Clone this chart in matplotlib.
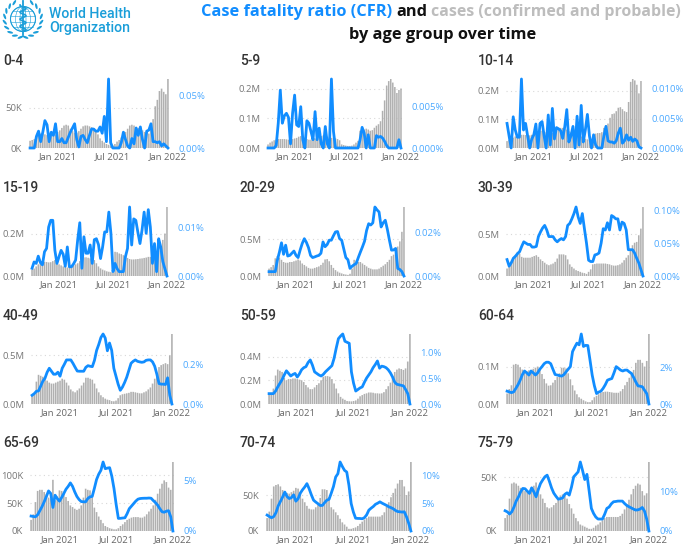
import matplotlib
matplotlib.use("Agg")
import matplotlib.pyplot as plt
from matplotlib.patches import Circle, Ellipse
from matplotlib.ticker import FixedLocator, FixedFormatter
import numpy as np
import pandas as pd

W, H = 685, 545
BLUE = "#118DFF"
BLUE_TXT = "#4BA9FF"
GREY = "#B0B0B0"
LOGO = "#1A9ED9"

# weekly dates, bars run from Oct 2020 to the first week of Jan 2022
weeks = pd.date_range("2020-10-05", periods=66, freq="7D")

# cases
cases_0_4 = [9, 10, 11, 15, 17, 18, 18, 17, 16, 17,
             15, 16, 17, 20, 22, 25, 28, 29, 28, 24,
             21, 19, 19, 21, 24, 27, 28, 28, 27, 26,
             24, 22, 17, 12, 9, 7, 5, 4, 3, 3,
             5, 8, 10, 13, 17, 20, 24, 28, 29, 28,
             26, 25, 24, 22, 20, 19, 18, 22, 36, 52,
             60, 71, 74, 70, 67, 86]
cases_5_9 = [.012, .018, .022, .026, .028, .03, .03, .03, .03, .029,
             .028, .029, .03, .032, .034, .038, .04, .038, .035, .03,
             .028, .028, .03, .032, .034, .036, .04, .042, .04, .038,
             .036, .034, .034, .032, .03, .026, .012, .01, .008, .007,
             .007, .008, .012, .018, .024, .058, .06, .062, .065, .062,
             .058, .06, .068, .075, .08, .09, .125, .16, .21, .225,
             .232, .22, .205, .185, .195, .2]
cases_10_14 = [.024, .028, .032, .036, .04, .042, .044, .046, .046, .045,
               .044, .044, .046, .05, .054, .058, .06, .06, .058, .055,
               .052, .05, .052, .056, .062, .068, .07, .07, .068, .064,
               .058, .054, .05, .046, .044, .042, .04, .036, .032, .03,
               .028, .028, .034, .05, .052, .052, .055, .07, .08, .085,
               .105, .118, .12, .128, .14, .142, .135, .128, .125, .16,
               .23, .24, .235, .22, .19, .233]
cases_15_19 = [.03, .035, .045, .055, .06, .065, .067, .066, .064, .065,
               .07, .075, .065, .055, .05, .045, .042, .04, .042, .044,
               .05, .055, .06, .07, .08, .0875, .088, .086, .083, .085,
               .075, .06, .045, .036, .03, .026, .022, .02, .018, .016,
               .114, .112, .106, .103, .098, .09, .085, .08, .078, .078,
               .079, .08, .082, .083, .085, .087, .09, .09, .092, .098,
               .11, .12, .14, .17, .2, .325]
cases_20_29 = [.10, .12, .15, .24, .27, .25, .22, .19, .18, .18,
               .19, .19, .20, .21, .225, .21, .17, .15, .13, .11,
               .10, .10, .11, .12, .13, .15, .18, .225, .23, .20,
               .15, .11, .08, .06, .045, .035, .025, .02, .015, .03,
               .10, .22, .21, .19, .19, .17, .15, .13, .11, .10,
               .09, .09, .09, .10, .12, .14, .16, .19, .22, .27,
               .29, .31, .40, .47, .60, .937]
cases_30_39 = [.09, .13, .17, .21, .25, .29, .27, .23, .22, .22,
               .22, .22, .23, .24, .25, .23, .20, .18, .16, .14,
               .13, .14, .15, .17, .21, .26, .26, .26, .25, .20,
               .14, .11, .09, .07, .06, .05, .04, .035, .025, .05,
               .08, .14, .145, .15, .15, .15, .15, .15, .145, .14,
               .13, .125, .125, .13, .14, .16, .19, .22, .25, .31,
               .37, .40, .41, .49, .57, .83]
cases_40_49 = [.09, .10, .23, .30, .29, .28, .26, .24, .22, .21,
               .21, .22, .23, .24, .26, .25, .22, .19, .15, .13,
               .12, .14, .16, .19, .22, .27, .27, .26, .25, .21,
               .16, .12, .09, .07, .055, .045, .04, .03, .028, .035,
               .06, .09, .10, .105, .11, .115, .125, .125, .12, .115,
               .11, .11, .12, .13, .15, .17, .21, .26, .32, .38,
               .40, .41, .42, .41, .50, .72]
cases_50_59 = [.08, .09, .13, .24, .29, .28, .27, .22, .2, .21,
               .21, .215, .215, .21, .205, .2, .185, .16, .14, .125,
               .125, .14, .16, .175, .20, .23, .235, .235, .23, .21,
               .173, .13, .09, .06, .045, .035, .025, .023, .022, .025,
               .03, .045, .065, .075, .085, .09, .097, .097, .095, .09,
               .09, .088, .09, .10, .125, .15, .18, .22, .27, .29,
               .30, .295, .287, .30, .358, .59]
cases_60_64 = [.028, .04, .05, .105, .107, .105, .098, .092, .088, .088,
               .09, .091, .094, .097, .10, .092, .08, .067, .055, .049,
               .05, .057, .064, .072, .082, .097, .097, .095, .082, .066,
               .05, .036, .026, .018, .014, .01, .007, .005, .005, .01,
               .018, .022, .026, .03, .032, .033, .033, .032, .031, .03,
               .03, .03, .034, .04, .05, .059, .07, .08, .091, .11,
               .118, .118, .11, .10, .115, .187]
cases_65_69 = [20, 30, 52, 72, 74, 74, 70, 66, 60, 58,
               92, 55, 62, 73, 72, 68, 61, 54, 46, 43,
               40, 38, 40, 46, 60, 76, 74, 73, 60, 42,
               34, 26, 20, 14, 9, 7, 5, 4, 3, 3,
               5, 9, 12, 16, 20, 22, 24, 25, 25, 25,
               24, 24, 26, 30, 35, 40, 46, 56, 67, 76,
               85, 91, 88, 78, 74, 124]
cases_70_74 = [18, 27, 45, 62, 64, 65, 62, 57, 55, 53,
               52, 54, 56, 60, 59, 52, 45, 40, 35, 31,
               30, 30, 33, 36, 46, 58, 58, 57, 47, 33,
               30, 26, 22, 17, 12, 9, 6, 3, 3, 4,
               5, 7, 10, 13, 16, 18, 20, 20, 20, 20,
               20, 20, 22, 26, 34, 40, 47, 53, 59, 66,
               71, 71, 62, 50, 55, 96]
cases_75_79 = [12, 15, 30, 44, 45, 44, 42, 40, 38, 37,
               36, 36, 38, 42, 45, 40, 34, 30, 26, 22,
               21, 22, 24, 26, 29, 33, 34, 33, 30, 25,
               21, 16, 12, 9, 6, 5, 4, 3, 2, 2,
               3, 5, 6, 8, 10, 12, 13, 13, 13, 13,
               13, 13, 14, 16, 20, 25, 29, 34, 39, 42,
               44, 43, 37, 33, 35, 64]

# case fatality ratio, percent
cfr_0_4 = [0, 0, 0, .011, .016, .006, .015, .026, .022, .006,
           .015, .012, .023, .006, .006, .009, .005, .005, .010, .015,
           .019, .023, .008, .001, .011, .012, .008, .005, .012, .018,
           .018, .016, .016, .020, .014, .030, .006, .0655, .005, 0,
           0, 0, 0, .005, .015, .008, .002, 0, .009, .004,
           .019, .012, .02, .008, 0, .016, .017, .023, .006, .006,
           .005, .006, .002, .004, .002, 0]
cfr_5_9 = [0, 0, 0, 0, .0003, .003, .007, .003, .0039, .0042,
           .0037, .0005, .0042, .0064, .0028, .0026, .005, .001, 0, .0033,
           .003, .002, .001, .0044, .001, .0024, .0005, 0, .0026, .0005,
           0, .00835, .002, 0, 0, 0, 0, 0, 0, 0,
           0, 0, 0, 0, 0, .001, .0025, .0018, 0, .0016,
           0, 0, 0, .0015, .0013, .0014, .0012, .0008, .0003, 0,
           0, 0, 0, 0, .001, 0]
cfr_10_14 = [.0041, .002, 0, .0052, .003, .0018, .0018, .0115, .003, .0041,
             .002, 0, .0015, .0022, .004, 0, .0041, .0044, .002, 0,
             .0055, .0005, .0066, .0015, .0034, .0032, .0029, .0016, .0035, .0064,
             .001, .002, .0036, 0, .0053, .0005, .0071, .001, .003, .0056,
             .002, 0, .0022, .0005, 0, 0, 0, .002, .0036, .0012,
             .001, .001, .0008, .0012, .0025, .0033, .0008, .0012, .0022, .0013,
             .0018, .0011, .0015, .0012, .0002, 0]
cfr_15_19 = [.0016, .0029, .0026, .0041, .0028, .0023, .005, .0057, .0101, .0115,
             .0115, .0053, .0026, .004, .0053, .0045, .002, .006, .0019, .0019,
             .0025, .0033, .0075, .011, .0016, .0081, .0047, .0047, .0064, .0026,
             .0075, .0077, .0065, .0036, .006, .0091, .0091, .0132, .0088, .0009,
             .0026, .0015, .0009, .0009, .0009, .004, .0057, .01425, .0064, .0118,
             .0115, .009, .0067, .0095, .0132, .0088, .0137, .0101, .0026, .0067,
             .0009, .0077, .006, .003, .0015, 0]
cfr_20_29 = [.002, .002, .002, .002, .0073, .011, .0153, .01, .0142, .0092,
             .0095, .0105, .0115, .0095, .0085, .012, .015, .0172, .0155, .0131,
             .0095, .0085, .0088, .0092, .0095, .0105, .0157, .0135, .0145, .0165,
             .0165, .0185, .0203, .0205, .0172, .0165, .0125, .0085, .0075, .0035,
             .0045, .0052, .0058, .0085, .011, .0134, .016, .021, .0241, .0235,
             .0245, .0318, .0305, .0295, .0226, .0245, .0257, .0215, .0165, .0119,
             .012, .0127, .0035, .003, .002, 0]
cfr_30_39 = [.025, .015, .02, .027, .03, .034, .037, .045, .052, .05,
             .048, .048, .044, .044, .045, .06, .067, .073, .077, .07,
             .06, .06, .06, .055, .052, .055, .057, .055, .06, .077,
             .08, .087, .095, .105, .09, .08, .095, .072, .05, .024,
             .022, .022, .032, .033, .035, .05, .072, .07, .081, .07,
             .092, .09, .087, .087, .07, .082, .08, .07, .04, .04,
             .04, .035, .027, .02, .01, 0]
cfr_40_49 = [.044, .052, .064, .066, .09, .115, .13, .16, .18, .165,
             .15, .15, .16, .14, .18, .20, .222, .222, .222, .205,
             .185, .166, .165, .165, .165, .185, .193, .19, .188, .22,
             .27, .30, .335, .3525, .332, .268, .307, .27, .18, .14,
             .10, .069, .085, .108, .135, .17, .205, .215, .222, .215,
             .212, .21, .212, .22, .222, .222, .212, .19, .15, .103,
             .10, .1, .098, .132, .044, 0]
cfr_50_59 = [.2, .2, .2, .25, .33, .4, .47, .56, .64, .59,
             .54, .57, .59, .52, .58, .66, .70, .72, .80, .85,
             .75, .62, .59, .56, .54, .57, .62, .66, .70, .74,
             .88, 1.08, 1.26, 1.31, 1.35, 1.21, 1.19, 1.17, .62, .4,
             .25, .28, .31, .33, .42, .5, .56, .62, .70, .76,
             .83, .69, .73, .72, .7, .66, .6, .52, .42, .38,
             .37, .36, .35, .28, .2, 0]
cfr_60_64 = [.70, .66, .62, .66, .85, 1.05, 1.3, 1.6, 1.8, 1.7,
             1.58, 1.8, 1.7, 1.58, 1.7, 1.9, 2.04, 2.2, 2.28, 2.28,
             2.2, 1.9, 1.61, 1.58, 1.55, 1.52, 1.6, 1.75, 1.9, 2.04,
             2.86, 3.1, 3.32, 3.23, 3.82, 3.14, 3.2, 3.19, 2.4, 1.58,
             1.0, .57, .65, .7, .85, 1.05, 1.3, 1.35, 1.39, 1.7,
             2.04, 1.95, 1.85, 1.8, 1.85, 1.85, 1.75, 1.67, 1.45, 1.2,
             .99, .97, .94, .75, .57, 0]
cfr_65_69 = [1.47, 1.43, 1.4, 1.6, 2.0, 2.4, 2.88, 3.4, 3.95, 3.7,
             2.32, 3.53, 3.2, 2.94, 3.3, 3.7, 4.12, 4.4, 4.74, 4.4,
             3.86, 3.4, 3.1, 2.9, 2.88, 2.88, 3.2, 3.37, 3.4, 4.2,
             5.07, 5.6, 5.98, 6.8, 6.14, 6.2, 6.24, 5.4, 4.18, 2.6,
             1.24, 1.25, 1.28, 1.3, 1.7, 2.2, 2.45, 2.7, 2.95, 3.14,
             3.2, 3.22, 3.23, 3.23, 3.25, 3.23, 3.0, 2.8, 2.55, 2.2,
             1.9, 1.85, 1.95, 2.0, 1.4, 0]
cfr_70_74 = [2.86, 2.6, 2.38, 2.6, 3.3, 4.5, 5.3, 6.1, 7.0, 6.2,
             5.83, 6.0, 6.5, 5.36, 5.8, 6.8, 7.4, 7.9, 8.51, 7.6,
             6.5, 5.54, 5.2, 4.9, 4.58, 4.6, 5.1, 5.54, 5.7, 6.8,
             8.0, 9.7, 10.3, 12.4, 11.6, 10.9, 10.6, 8.2, 4.94, 3.4,
             2.3, 2.26, 2.25, 2.2, 2.4, 2.9, 3.75, 4.1, 4.4, 4.8,
             5.0, 5.24, 5.0, 4.8, 4.6, 4.35, 4.2, 4.0, 3.7, 3.5,
             3.45, 3.4, 3.45, 2.56, 1.4, 0]
cfr_75_79 = [5.08, 4.8, 4.25, 4.8, 6.0, 7.5, 8.5, 9.8, 10.67, 10.6,
             10.0, 9.42, 10.83, 9.8, 8.58, 10.4, 11.9, 12.8, 13.6, 14,
             12.5, 10.8, 9.5, 8.7, 8.0, 8.1, 8.3, 9.2, 9.58, 9.0,
             11, 13.58, 14.2, 14.83, 17.3, 15.2, 12.9, 14.2, 10, 5.67,
             4.4, 3.5, 3, 3, 3, 4.2, 5.67, 6.0, 6.8, 7.33,
             7.4, 7.5, 7.5, 7.5, 6.9, 6.4, 6.08, 5.8, 5.5, 5.25,
             5.3, 5.5, 5.9, 5.0, 3, 0]

age_groups = ["0-4", "5-9", "10-14", "15-19", "20-29", "30-39",
              "40-49", "50-59", "60-64", "65-69", "70-74", "75-79"]
cases = [cases_0_4, cases_5_9, cases_10_14, cases_15_19, cases_20_29, cases_30_39,
         cases_40_49, cases_50_59, cases_60_64, cases_65_69, cases_70_74, cases_75_79]
cfr = [cfr_0_4, cfr_5_9, cfr_10_14, cfr_15_19, cfr_20_29, cfr_30_39,
       cfr_40_49, cfr_50_59, cfr_60_64, cfr_65_69, cfr_70_74, cfr_75_79]

# tick values and labels, left axis then right axis
left_ticks = [[0, 50], [0, .1, .2], [0, .1, .2], [0, .2], [0, .5], [0, .5],
              [0, .5], [0, .2, .4], [0, .1], [0, 50, 100], [0, 50], [0, 50]]
left_labels = [["0K", "50K"], ["0.0M", "0.1M", "0.2M"], ["0.0M", "0.1M", "0.2M"],
               ["0.0M", "0.2M"], ["0.0M", "0.5M"], ["0.0M", "0.5M"],
               ["0.0M", "0.5M"], ["0.0M", "0.2M", "0.4M"], ["0.0M", "0.1M"],
               ["0K", "50K", "100K"], ["0K", "50K"], ["0K", "50K"]]
right_ticks = [[0, .05], [0, .005], [0, .005, .01], [0, .01], [0, .02], [0, .05, .1],
               [0, .2], [0, .5, 1], [0, 2], [0, 5], [0, 5, 10], [0, 10]]
right_labels = [["0.00%", "0.05%"], ["0.000%", "0.005%"], ["0.000%", "0.005%", "0.010%"],
                ["0.00%", "0.01%"], ["0.00%", "0.02%"], ["0.00%", "0.05%", "0.10%"],
                ["0.0%", "0.2%"], ["0.0%", "0.5%", "1.0%"], ["0%", "2%"],
                ["0%", "5%"], ["0%", "5%", "10%"], ["0%", "10%"]]
date_ticks = pd.to_datetime(["2021-01-04", "2021-07-05", "2022-01-03"])
date_labels = ["Jan 2021", "Jul 2021", "Jan 2022"]

# panel boxes in pixels: left, right, top, bottom
boxes = [(29, 169, 79, 148), (267, 402, 79, 148), (506, 642, 79, 148),
         (31, 168, 207, 276), (268, 405, 207, 276), (506, 644, 207, 276),
         (31, 173, 334, 404), (268, 411, 334, 404), (506, 650, 334, 404),
         (30, 174, 462, 531), (266, 412, 462, 531), (504, 650, 462, 531)]
title_pos = [(3, 61), (240, 61), (478, 61),
             (3, 188), (240, 188), (478, 188),
             (3, 316), (240, 316), (478, 316),
             (3, 443), (240, 443), (478, 443)]

plt.rcParams["font.family"] = ["Open Sans", "DejaVu Sans"]
fig = plt.figure(figsize=(W / 100, H / 100), dpi=100)


def put_text(x, y, s, **kw):
    fig.text(x / W, 1 - y / H, s, **kw)


half_week = pd.Timedelta(days=3.5)
for i, name in enumerate(age_groups):
    left, right, top, bottom = boxes[i]
    ax = fig.add_axes([left / W, 1 - bottom / H, (right - left) / W, (bottom - top) / H])
    bars = ax.bar(weeks, cases[i], width=5.2, color=GREY, zorder=2)
    for b in bars:
        b.set_snap(False)
    ax.set_xlim(weeks[0] - half_week, weeks[-1] + half_week)
    ax.set_ylim(0, max(cases[i]))
    ax.yaxis.set_major_locator(FixedLocator(left_ticks[i]))
    ax.yaxis.set_major_formatter(FixedFormatter(left_labels[i]))
    ax.set_xticks(date_ticks)
    ax.set_xticklabels(date_labels)
    ax.tick_params(axis="x", length=0, pad=3, labelsize=6.8, labelcolor="#666666")
    ax.tick_params(axis="y", length=0, pad=5, labelsize=6.8, labelcolor="#777777")
    ax.grid(axis="y", color="#D8D8D8", linestyle=(0, (1, 3)), linewidth=0.8, zorder=0)
    ax.set_axisbelow(True)

    ax2 = ax.twinx()
    ax2.plot(weeks, cfr[i], color=BLUE, linewidth=2.0, clip_on=False,
             solid_joinstyle="round", zorder=5)
    ax2.set_ylim(0, max(cfr[i]))
    ax2.yaxis.set_major_locator(FixedLocator(right_ticks[i]))
    ax2.yaxis.set_major_formatter(FixedFormatter(right_labels[i]))
    ax2.tick_params(axis="y", length=0, pad=6.5, labelsize=6.8, labelcolor=BLUE_TXT)
    for a in (ax, ax2):
        for s in a.spines.values():
            s.set_visible(False)

    tx, ty = title_pos[i]
    put_text(tx, ty, name, family="Roboto", fontsize=10, fontweight="medium",
             color="#333333", va="center", ha="left")

# heading
head = dict(fontsize=11.8, fontweight="bold", va="center", ha="left")
put_text(201, 12, "Case fatality ratio (CFR)", color=BLUE, **head)
put_text(396, 12, "and", color="#111111", **head)
head_grey = dict(head, fontsize=11.4)
put_text(431, 12, "cases (confirmed and probable)", color="#BDBDBD", **head_grey)
put_text(349, 35, "by age group over time", color="#111111", **head)

# WHO emblem, drawn in pixel units on a see-through layer
logo = fig.add_axes([0, 1 - 42 / H, 48 / W, 42 / H])
logo.set_xlim(0, 48)
logo.set_ylim(42, 0)
logo.axis("off")
cx, cy = 23, 19
logo.add_patch(Circle((cx, cy), 12.5, fill=False, ec=LOGO, lw=0.8))
for w in (25, 15, 6):
    logo.add_patch(Ellipse((cx, cy), w, 25, fill=False, ec=LOGO, lw=0.4))
for dy in (-8, -3, 3, 8):
    half = np.sqrt(12.5 ** 2 - dy ** 2)
    logo.plot([cx - half, cx + half], [cy + dy, cy + dy], color=LOGO, lw=0.4)
logo.plot([cx, cx], [1, 35], color=LOGO, lw=1.3)
snake_y = np.linspace(5, 31, 60)
logo.plot(cx + 3 * np.sin(snake_y * 0.9), snake_y, color=LOGO, lw=1.2)
for side in (-1, 1):
    for deg in range(-62, 92, 18):
        a = np.radians(deg)
        lx = cx + side * 18.5 * np.cos(a)
        ly = cy + 18.5 * np.sin(a)
        logo.add_patch(Ellipse((lx, ly), 2.2, 6, angle=side * (deg + 30), fc=LOGO, ec="none"))

put_text(49, 14, "World Health", family="Roboto", fontweight="medium",
         fontsize=10.2, color=LOGO, va="center", ha="left")
put_text(49, 28, "Organization", family="Roboto", fontweight="medium",
         fontsize=10.2, color=LOGO, va="center", ha="left")

fig.savefig("out.png", dpi=100)
